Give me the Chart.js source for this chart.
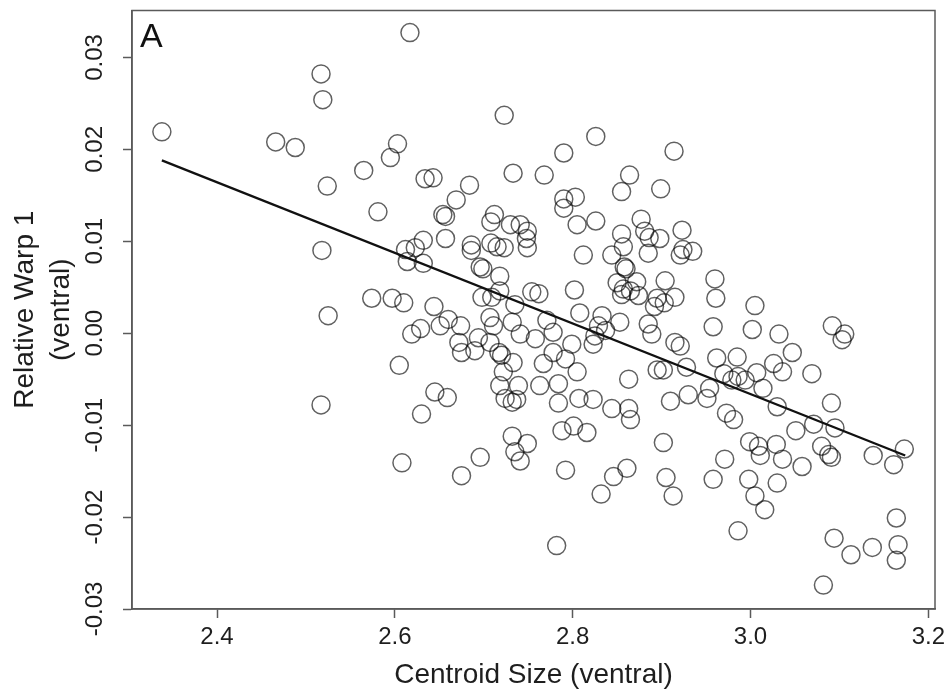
<!DOCTYPE html>
<html>
<head>
<meta charset="utf-8">
<script src="https://cdn.jsdelivr.net/npm/chart.js@4.4.1/dist/chart.umd.min.js"></script>
<style>
  html, body { margin: 0; padding: 0; background: #ffffff; }
  #wrap { width: 951px; height: 698px; }
</style>
</head>
<body>
<div id="wrap"><canvas id="c" width="951" height="698"></canvas></div>
<script>
// Centroid Size (ventral) for each specimen
const centroidSize = [
  2.338, 2.517, 2.519, 2.466, 2.488, 2.524, 2.565, 2.595, 2.603, 2.581, 2.518, 2.574, 2.597, 2.525, 2.517, 2.605, 2.608,
  2.617, 2.634, 2.643, 2.654, 2.657, 2.657, 2.612, 2.623, 2.632, 2.614, 2.632, 2.669, 2.684, 2.686, 2.686, 2.610, 2.644,
  2.723, 2.733, 2.768, 2.712, 2.708, 2.730, 2.741, 2.749, 2.748, 2.749, 2.708, 2.715, 2.723, 2.696, 2.699, 2.718, 2.718,
  2.709, 2.698, 2.754, 2.762, 2.735,
  2.826, 2.790, 2.864, 2.855, 2.899, 2.790, 2.803, 2.790, 2.805, 2.826, 2.812, 2.802, 2.855, 2.857, 2.844, 2.877, 2.881,
  2.886, 2.898, 2.885, 2.858, 2.860, 2.872, 2.850, 2.857, 2.865, 2.855, 2.874, 2.895, 2.903, 2.904, 2.808, 2.892,
  2.914, 2.923, 2.921, 2.924, 2.935, 2.960, 2.961, 3.005, 2.915,
  2.619, 2.629, 2.651, 2.660, 2.674, 2.672, 2.675, 2.690, 2.694, 2.707, 2.707, 2.711, 2.645, 2.659, 2.630, 2.675, 2.696,
  2.717, 2.720, 2.722, 2.733, 2.718, 2.739, 2.724, 2.732, 2.737, 2.732, 2.741, 2.758, 2.771, 2.778, 2.767, 2.778, 2.792,
  2.799, 2.805, 2.763, 2.784, 2.784, 2.807, 2.823, 2.829, 2.833, 2.853, 2.825, 2.823, 2.837, 2.844, 2.863, 2.865, 2.863,
  2.732, 2.749, 2.735, 2.741, 2.788, 2.801, 2.816, 2.792, 2.846, 2.861, 2.832, 2.782, 2.885, 2.889, 2.895, 2.902, 2.910,
  2.902, 2.905, 2.913,
  2.958, 3.002, 3.032, 3.047, 3.026, 3.036, 3.069, 3.092, 3.106, 3.103, 2.915, 2.921, 2.928, 2.962, 2.985, 2.970, 2.979,
  2.986, 2.994, 3.007, 3.014, 2.930, 2.951, 2.954, 3.030, 2.973, 2.981, 3.091, 3.051, 3.071, 3.095, 2.999, 3.009, 3.011,
  3.029, 3.036, 3.058, 3.080, 3.088, 3.091, 3.138, 3.161, 3.173, 2.971, 2.958, 2.998, 3.030, 3.005, 3.016, 2.986, 3.164,
  3.094, 3.113, 3.137, 3.166, 3.164, 3.082
];

// Relative Warp 1 (ventral) for each specimen
const relativeWarp = [
  0.0219, 0.0282, 0.0254, 0.0208, 0.0202, 0.0160, 0.0177, 0.0191, 0.0206, 0.0132, 0.0090, 0.0038, 0.0038, 0.0019, -0.0078, -0.0035, -0.0141,
  0.0327, 0.0168, 0.0169, 0.0129, 0.0127, 0.0103, 0.0091, 0.0093, 0.0101, 0.0078, 0.0076, 0.0145, 0.0161, 0.0096, 0.0090, 0.0033, 0.0029,
  0.0237, 0.0174, 0.0172, 0.0129, 0.0121, 0.0118, 0.0118, 0.0111, 0.0103, 0.0093, 0.0098, 0.0094, 0.0093, 0.0072, 0.0070, 0.0062, 0.0046,
  0.0039, 0.0039, 0.0045, 0.0043, 0.0031,
  0.0214, 0.0196, 0.0172, 0.0154, 0.0157, 0.0146, 0.0148, 0.0136, 0.0118, 0.0122, 0.0085, 0.0047, 0.0108, 0.0094, 0.0085, 0.0124, 0.0111,
  0.0104, 0.0103, 0.0087, 0.0072, 0.0070, 0.0056, 0.0055, 0.0048, 0.0046, 0.0042, 0.0041, 0.0038, 0.0033, 0.0057, 0.0022, 0.0029,
  0.0198, 0.0112, 0.0085, 0.0091, 0.0089, 0.0059, 0.0038, 0.0030, 0.0039,
  -0.0001, 0.0005, 0.0008, 0.0015, 0.0008, -0.0010, -0.0021, -0.0019, -0.0005, -0.0010, 0.0017, 0.0008, -0.0064, -0.0070, -0.0088, -0.0155, -0.0135,
  -0.0021, -0.0024, -0.0042, -0.0032, -0.0057, -0.0057, -0.0071, -0.0075, -0.0072, 0.0012, -0.0001, -0.0006, 0.0014, 0.0001, -0.0033, -0.0021, -0.0028,
  -0.0012, -0.0042, -0.0057, -0.0055, -0.0076, -0.0071, -0.0072, 0.0008, 0.0019, 0.0012, -0.0003, -0.0012, 0.0003, -0.0082, -0.0082, -0.0094, -0.0050,
  -0.0112, -0.0120, -0.0129, -0.0139, -0.0106, -0.0101, -0.0108, -0.0149, -0.0156, -0.0147, -0.0175, -0.0231, 0.0010, -0.0001, -0.0040, -0.0040, -0.0074,
  -0.0119, -0.0157, -0.0177,
  0.0007, 0.0004, -0.0001, -0.0021, -0.0033, -0.0042, -0.0044, 0.0008, -0.0001, -0.0007, -0.0010, -0.0014, -0.0037, -0.0027, -0.0026, -0.0044, -0.0051,
  -0.0047, -0.0051, -0.0043, -0.0060, -0.0067, -0.0071, -0.0060, -0.0080, -0.0087, -0.0094, -0.0076, -0.0106, -0.0099, -0.0103, -0.0118, -0.0123, -0.0133,
  -0.0121, -0.0137, -0.0145, -0.0123, -0.0132, -0.0135, -0.0133, -0.0143, -0.0126, -0.0137, -0.0159, -0.0159, -0.0163, -0.0177, -0.0192, -0.0215, -0.0201,
  -0.0223, -0.0241, -0.0233, -0.0230, -0.0247, -0.0274
];

// Fitted regression line (end points)
const fitX = [2.338, 3.174];
const fitY = [0.0188, -0.0133];

// Axis ticks
const xTicks = [2.4, 2.6, 2.8, 3.0, 3.2];
const yTicks = [-0.03, -0.02, -0.01, 0.00, 0.01, 0.02, 0.03];

const FONT = '"Liberation Sans", Arial, Helvetica, sans-serif';
const AXIS_COLOR = '#5a5a5a';
const TEXT_COLOR = '#1e1e1e';

const points = centroidSize.map((x, i) => ({ x: x, y: relativeWarp[i] }));
const fitLine = fitX.map((x, i) => ({ x: x, y: fitY[i] }));

const framePlugin = {
  id: 'frame',
  afterDraw(chart) {
    const { ctx, chartArea: a } = chart;
    ctx.save();
    ctx.strokeStyle = AXIS_COLOR;
    ctx.lineWidth = 1.5;
    ctx.strokeRect(a.left, a.top, a.right - a.left, a.bottom - a.top);
    ctx.fillStyle = '#111';
    ctx.font = '34px ' + FONT;
    ctx.textBaseline = 'alphabetic';
    ctx.textAlign = 'left';
    ctx.fillText('A', a.left + 8, a.top + 36);
    ctx.restore();
  }
};

new Chart(document.getElementById('c'), {
  type: 'scatter',
  data: {
    datasets: [
      {
        type: 'line',
        data: fitLine,
        showLine: true,
        borderColor: '#111111',
        borderWidth: 2.3,
        pointRadius: 0,
        fill: false
      },
      {
        data: points,
        showLine: false,
        pointStyle: 'circle',
        pointRadius: 9,
        pointHoverRadius: 9,
        borderWidth: 1.5,
        borderColor: 'rgba(0,0,0,0.62)',
        backgroundColor: 'rgba(0,0,0,0)'
      }
    ]
  },
  options: {
    responsive: false,
    animation: false,
    devicePixelRatio: 1,
    layout: { padding: { left: 0, top: 7, right: 16, bottom: 0 } },
    plugins: { legend: { display: false }, tooltip: { enabled: false } },
    scales: {
      x: {
        type: 'linear',
        min: 2.3044,
        max: 3.2075,
        afterBuildTicks(scale) { scale.ticks = xTicks.map(v => ({ value: v })); },
        afterFit(scale) { scale.height = 89; scale.paddingLeft = 0; scale.paddingRight = 0; },
        grid: { drawOnChartArea: false, drawTicks: true, tickLength: 9, tickColor: AXIS_COLOR, tickWidth: 1.5 },
        border: { display: true, color: AXIS_COLOR, width: 1.5 },
        ticks: {
          color: TEXT_COLOR,
          font: { family: FONT, size: 24 },
          padding: 5,
          maxRotation: 0,
          autoSkip: false,
          callback: v => Number(v).toFixed(1)
        },
        title: {
          display: true,
          text: 'Centroid Size (ventral)',
          color: TEXT_COLOR,
          font: { family: FONT, size: 28 },
          padding: { top: 0, bottom: 6 }
        }
      },
      y: {
        type: 'linear',
        min: -0.0300,
        max: 0.0351,
        afterBuildTicks(scale) { scale.ticks = yTicks.map(v => ({ value: v })); },
        afterFit(scale) { scale.width = 132; scale.paddingTop = 0; scale.paddingBottom = 0; },
        grid: { drawOnChartArea: false, drawTicks: true, tickLength: 9, tickColor: AXIS_COLOR, tickWidth: 1.5 },
        border: { display: true, color: AXIS_COLOR, width: 1.5 },
        ticks: {
          color: TEXT_COLOR,
          font: { family: FONT, size: 24 },
          padding: 0,
          minRotation: 90,
          maxRotation: 90,
          crossAlign: 'center',
          autoSkip: false,
          callback: v => Number(v).toFixed(2)
        },
        title: {
          display: true,
          text: ['Relative Warp 1', '(ventral)'],
          color: TEXT_COLOR,
          font: { family: FONT, size: 28, lineHeight: 1.3 },
          padding: { top: 7, bottom: 0 }
        }
      }
    }
  },
  plugins: [framePlugin]
});
</script>
</body>
</html>
